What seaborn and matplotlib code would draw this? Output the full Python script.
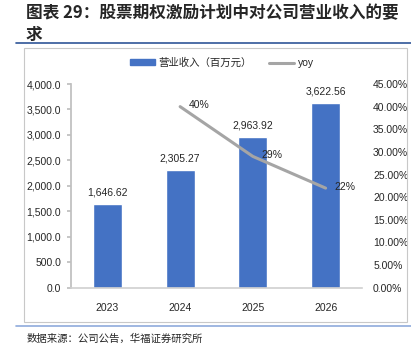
import matplotlib
matplotlib.use('Agg')
import matplotlib.pyplot as plt
import matplotlib.patches as mpatches
import matplotlib.lines as mlines
from matplotlib.ticker import FuncFormatter, MultipleLocator
import pandas as pd
import seaborn as sns

# --- data ---
years = ['2023', '2024', '2025', '2026']
revenue = [1646.62, 2305.27, 2963.92, 3622.56]
yoy_years = ['2024', '2025', '2026']
yoy = [0.40, 0.29, 0.22]

title = '图表 29：股票期权激励计划中对公司营业收入的要\n求'
source = '数据来源：公司公告，华福证券研究所'
bar_label = '营业收入（百万元）'
line_label = 'yoy'

BLUE = '#4472C4'
GRAY = '#A5A5A5'

sns.set_theme(style='white')
plt.rcParams['font.family'] = ['Liberation Sans', 'Noto Sans CJK SC', 'DejaVu Sans']

W, H = 411, 351
fig = plt.figure(figsize=(W / 100, H / 100), dpi=100)

def fx(px):
    return px / W

def fy(py):
    return 1 - py / H

# title & source
fig.text(fx(26), fy(4), title, fontsize=12, fontweight='bold', va='top', ha='left',
         family=['Noto Sans CJK SC'], linespacing=1.3)
fig.add_artist(mlines.Line2D([fx(16), fx(411)], [fy(43), fy(43)], color='#2F5597', lw=1.2))
fig.add_artist(mlines.Line2D([fx(16), fx(411)], [fy(326), fy(326)], color='#8FAADC', lw=1.2))
fig.text(fx(27), fy(333), source, fontsize=7.5, va='top', ha='left', family=['Noto Sans CJK SC'])
fig.patches.append(mpatches.Rectangle((fx(24), fy(322)), fx(407) - fx(24), fy(48) - fy(322),
                                      transform=fig.transFigure, fill=False,
                                      edgecolor='#C8C8C8', lw=0.8))

df = pd.DataFrame({'year': years, 'revenue': revenue})

ax = fig.add_axes([fx(71), fy(287.7), fx(362) - fx(71), fy(84) - fy(287.7)])
sns.barplot(data=df, x='year', y='revenue', color=BLUE, width=0.4, saturation=1, ax=ax)
ax.set_xlim(-0.5, 3.5)
ax.set_ylim(0, 4000)
ax.yaxis.set_major_locator(MultipleLocator(500))
ax.yaxis.set_major_formatter(FuncFormatter(lambda v, p: f'{v:,.1f}'))
ax.set_xlabel('')
ax.set_ylabel('')
for s in ['top', 'right']:
    ax.spines[s].set_visible(False)
ax.spines['left'].set_color('#BFBFBF')
ax.spines['bottom'].set_color('#D0D0D0')
ax.spines['bottom'].set_linewidth(1.2)
ax.tick_params(axis='y', left=True, length=3, color='#BFBFBF', labelsize=7.5, pad=4)
ax.tick_params(axis='x', bottom=False, labelsize=7.5, pad=5)
for i, v in enumerate(revenue):
    ax.text(i, v + 130, f'{v:,.2f}', ha='center', va='bottom', fontsize=7.5)

ax2 = ax.twinx()
xpos = [years.index(y) for y in yoy_years]
ax2.plot(xpos, yoy, color=GRAY, lw=2.2)
ax2.set_ylim(0, 0.45)
ax2.yaxis.set_major_locator(MultipleLocator(0.05))
ax2.yaxis.set_major_formatter(FuncFormatter(lambda v, p: f'{v * 100:.2f}%'))
for s in ['top', 'right', 'left', 'bottom']:
    ax2.spines[s].set_visible(False)
ax2.tick_params(axis='y', right=False, length=0, labelsize=7.5, pad=8)
for x, v in zip(xpos, yoy):
    ax2.text(x + 0.12, v + 0.003, f'{v * 100:.0f}%', ha='left', va='center', fontsize=7.5)

handles = [mpatches.Patch(color=BLUE, label=bar_label),
           mlines.Line2D([], [], color=GRAY, lw=2.2, label=line_label)]
fig.legend(handles=handles, loc='center', bbox_to_anchor=(fx(222), fy(63)), ncol=2,
           frameon=False, handlelength=2.4, handleheight=0.5,
           columnspacing=1.7, handletextpad=0.3,
           prop={'family': ['Liberation Sans', 'Noto Sans CJK SC'], 'size': 7.5})

fig.savefig('out.png', dpi=100)
